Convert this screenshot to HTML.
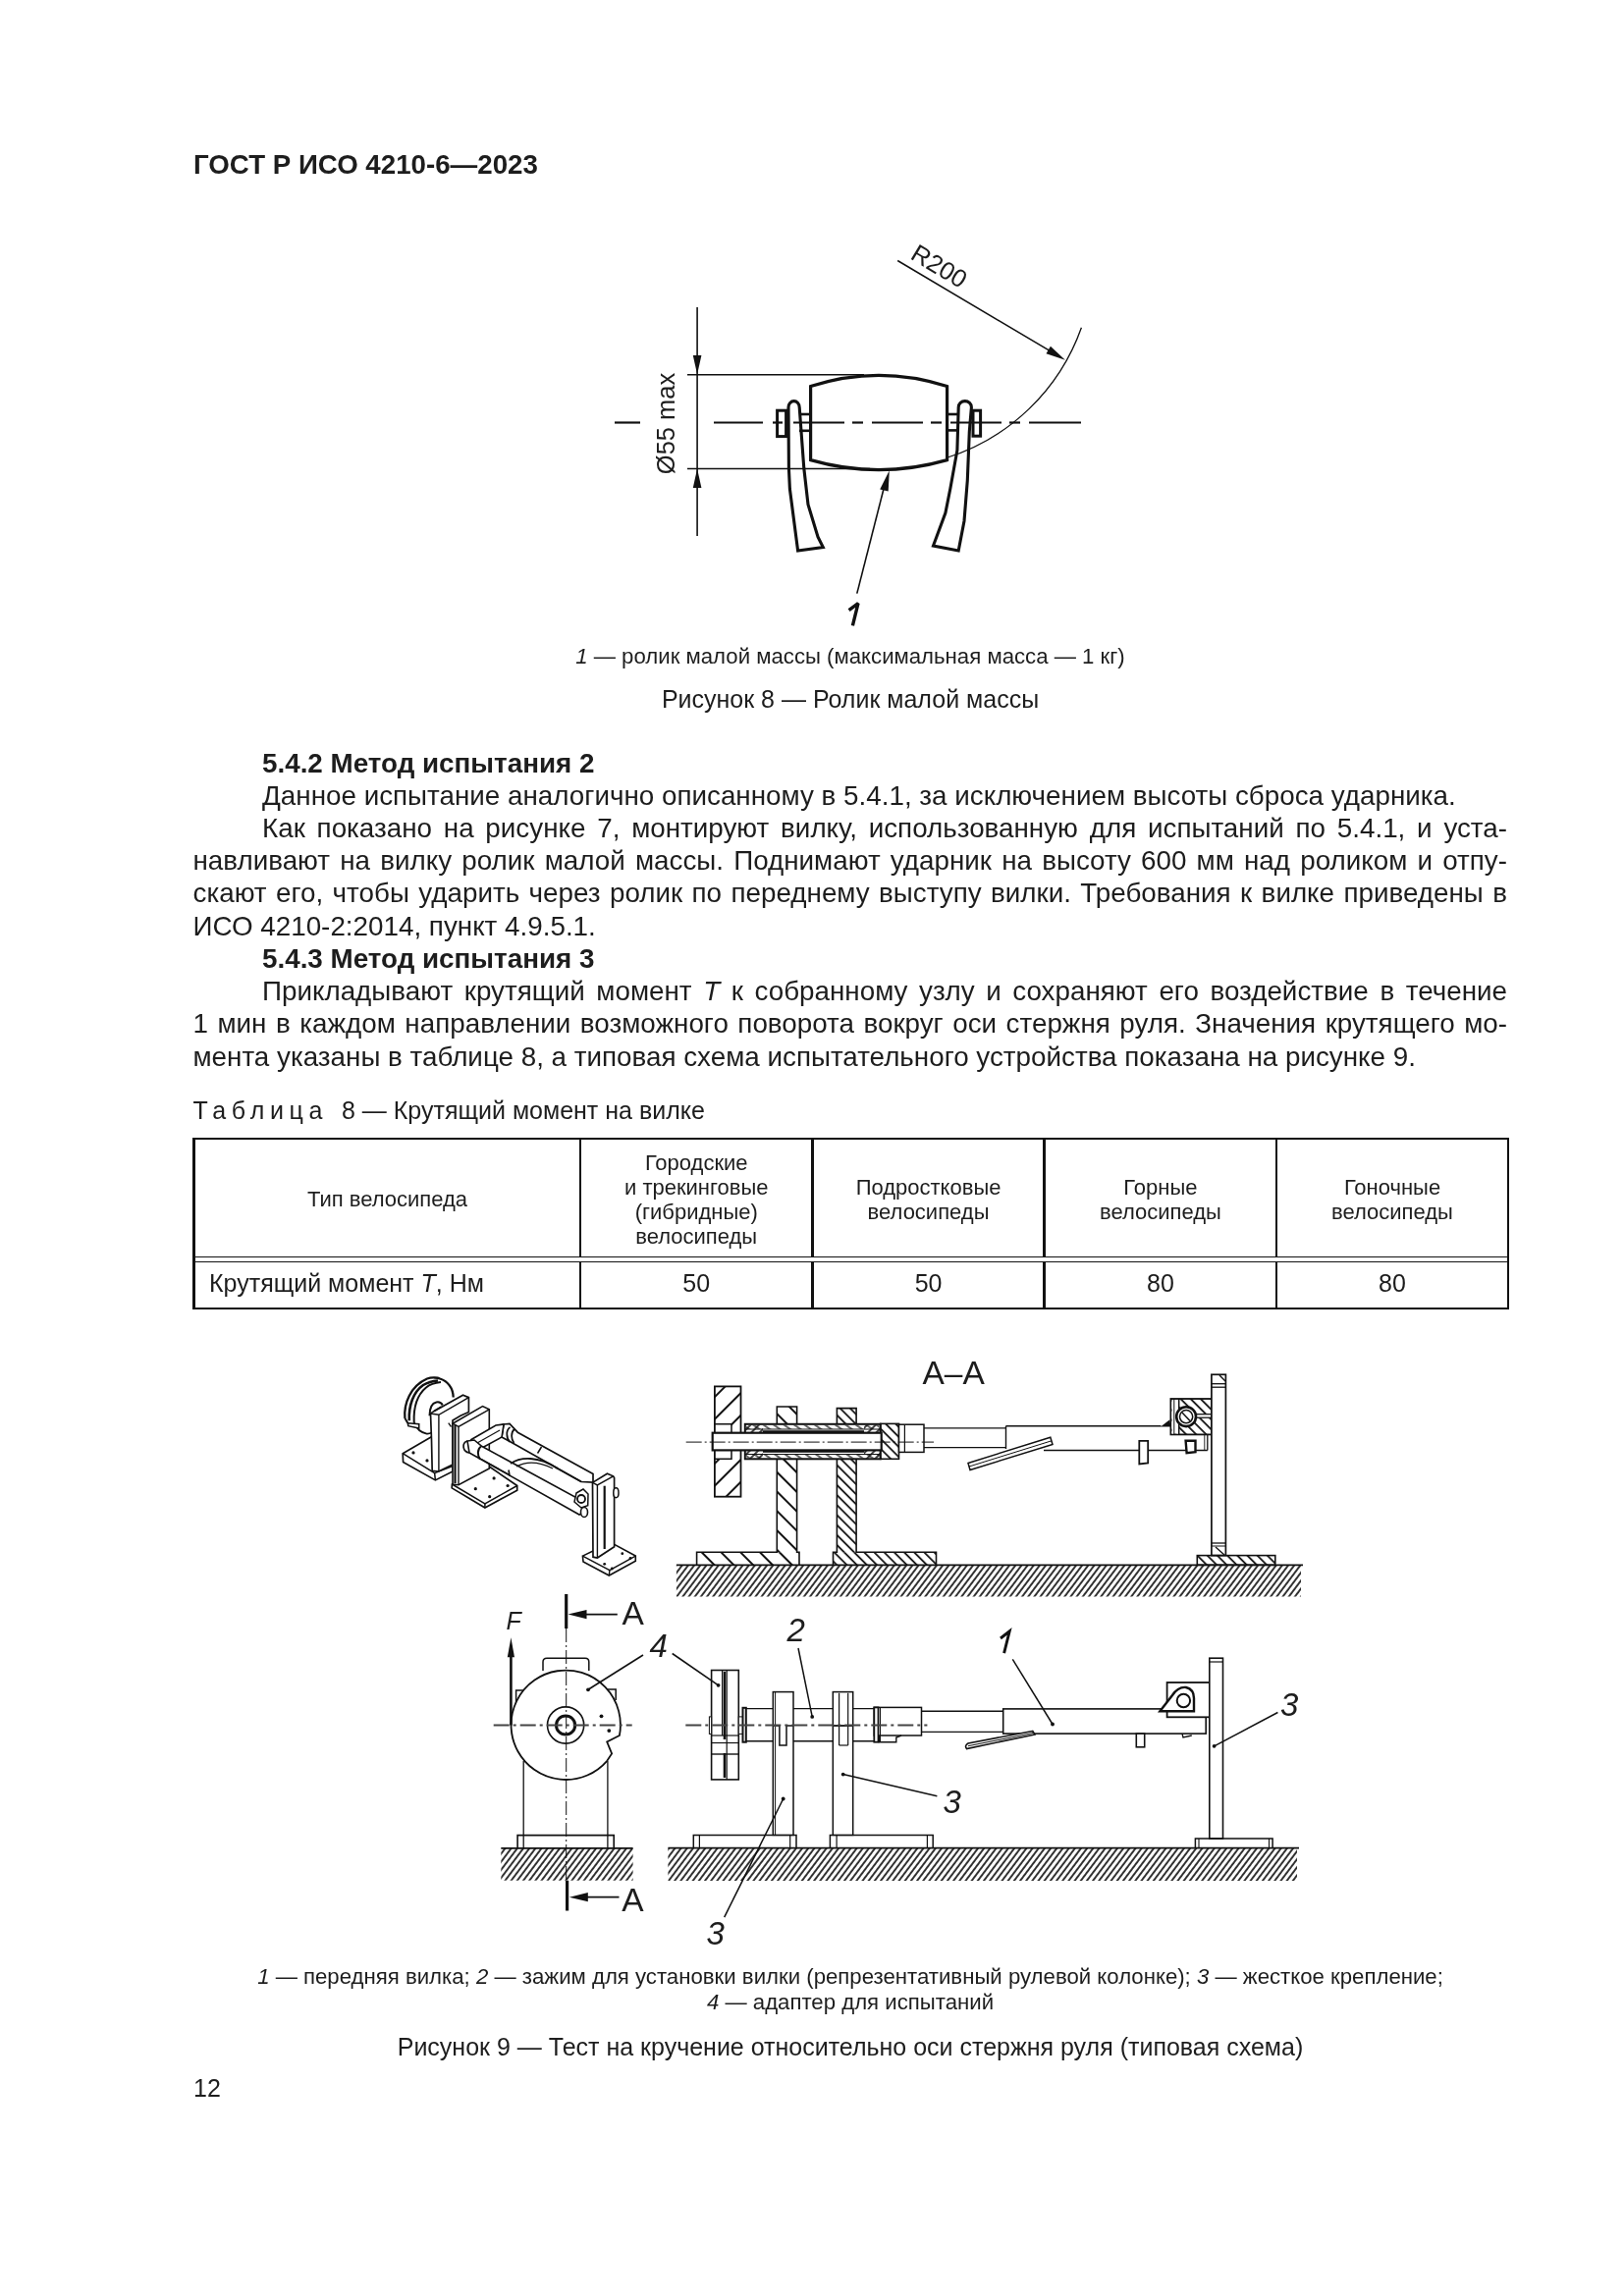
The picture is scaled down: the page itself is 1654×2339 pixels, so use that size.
<!DOCTYPE html>
<html><head><meta charset="utf-8"><title>ГОСТ Р ИСО 4210-6—2023</title>
<style>
html,body{margin:0;padding:0;background:#fff;}
#pg{position:relative;filter:grayscale(1);width:1654px;height:2339px;overflow:hidden;background:#fff;font-family:"Liberation Sans",sans-serif;color:#1d1d1d;}
.t{position:absolute;white-space:nowrap;}
.r{position:absolute;background:#111;}
.i1{display:inline-block;transform:skewX(-12deg);}
svg{position:absolute;left:0;top:0;}
</style></head><body><div id="pg">
<div class="t" style="left:197.00px;top:154.25px;font-size:27.7px;line-height:27.7px;font-weight:bold;">ГОСТ Р ИСО 4210-6—2023</div>
<div class="t" style="left:267.00px;top:763.52px;font-size:27.8px;line-height:27.8px;font-weight:bold;">5.4.2 Метод испытания 2</div>
<div class="t" style="left:267.00px;top:796.74px;font-size:27.8px;line-height:27.8px;">Данное испытание аналогично описанному в 5.4.1, за исключением высоты сброса ударника.</div>
<div class="t" style="left:267.00px;top:829.96px;font-size:27.8px;line-height:27.8px;width:1268.00px;text-align:justify;text-align-last:justify;white-space:normal;">Как показано на рисунке 7, монтируют вилку, использованную для испытаний по 5.4.1, и уста-</div>
<div class="t" style="left:196.50px;top:863.18px;font-size:27.8px;line-height:27.8px;width:1338.50px;text-align:justify;text-align-last:justify;white-space:normal;">навливают на вилку ролик малой массы. Поднимают ударник на высоту 600 мм над роликом и отпу-</div>
<div class="t" style="left:196.50px;top:896.40px;font-size:27.8px;line-height:27.8px;width:1338.50px;text-align:justify;text-align-last:justify;white-space:normal;">скают его, чтобы ударить через ролик по переднему выступу вилки. Требования к вилке приведены в</div>
<div class="t" style="left:196.50px;top:929.62px;font-size:27.8px;line-height:27.8px;">ИСО 4210-2:2014, пункт 4.9.5.1.</div>
<div class="t" style="left:267.00px;top:962.84px;font-size:27.8px;line-height:27.8px;font-weight:bold;">5.4.3 Метод испытания 3</div>
<div class="t" style="left:267.00px;top:996.06px;font-size:27.8px;line-height:27.8px;width:1268.00px;text-align:justify;text-align-last:justify;white-space:normal;">Прикладывают крутящий момент <i>T</i> к собранному узлу и сохраняют его воздействие в течение</div>
<div class="t" style="left:196.50px;top:1029.28px;font-size:27.8px;line-height:27.8px;width:1338.50px;text-align:justify;text-align-last:justify;white-space:normal;">1 мин в каждом направлении возможного поворота вокруг оси стержня руля. Значения крутящего мо-</div>
<div class="t" style="left:196.50px;top:1062.50px;font-size:27.8px;line-height:27.8px;">мента указаны в таблице 8, а типовая схема испытательного устройства показана на рисунке 9.</div>
<div class="t" style="left:166.00px;width:1400px;text-align:center;top:657.61px;font-size:22.2px;line-height:22.2px;"><i>1</i> — ролик малой массы (максимальная масса — 1 кг)</div>
<div class="t" style="left:166.00px;width:1400px;text-align:center;top:700.24px;font-size:25px;line-height:25px;">Рисунок 8 — Ролик малой массы</div>
<div class="t" style="left:196.50px;top:1119.39px;font-size:25px;line-height:25px;"><span style="letter-spacing:5.65px">Таблица</span>&nbsp; 8 — Крутящий момент на вилке</div>
<div class="t" style="left:166.00px;width:1400px;text-align:center;top:2002.61px;font-size:22.2px;line-height:22.2px;"><i>1</i> — передняя вилка; <i>2</i> — зажим для установки вилки (репрезентативный рулевой колонке); <i>3</i> — жесткое крепление;</div>
<div class="t" style="left:166.00px;width:1400px;text-align:center;top:2028.81px;font-size:22.2px;line-height:22.2px;"><i>4</i> — адаптер для испытаний</div>
<div class="t" style="left:166.00px;width:1400px;text-align:center;top:2072.54px;font-size:25px;line-height:25px;">Рисунок 9 — Тест на кручение относительно оси стержня руля (типовая схема)</div>
<div class="t" style="left:197.00px;top:2114.54px;font-size:25px;line-height:25px;">12</div>
<div class="t" style="left:244.50px;width:300px;text-align:center;top:1211.18px;font-size:22px;line-height:22px;">Тип велосипеда</div>
<div class="t" style="left:559.25px;width:300px;text-align:center;top:1173.83px;font-size:22px;line-height:22px;">Городские</div>
<div class="t" style="left:559.25px;width:300px;text-align:center;top:1198.73px;font-size:22px;line-height:22px;">и трекинговые</div>
<div class="t" style="left:559.25px;width:300px;text-align:center;top:1223.63px;font-size:22px;line-height:22px;">(гибридные)</div>
<div class="t" style="left:559.25px;width:300px;text-align:center;top:1248.53px;font-size:22px;line-height:22px;">велосипеды</div>
<div class="t" style="left:795.55px;width:300px;text-align:center;top:1198.73px;font-size:22px;line-height:22px;">Подростковые</div>
<div class="t" style="left:795.55px;width:300px;text-align:center;top:1223.63px;font-size:22px;line-height:22px;">велосипеды</div>
<div class="t" style="left:1031.90px;width:300px;text-align:center;top:1198.73px;font-size:22px;line-height:22px;">Горные</div>
<div class="t" style="left:1031.90px;width:300px;text-align:center;top:1223.63px;font-size:22px;line-height:22px;">велосипеды</div>
<div class="t" style="left:1268.00px;width:300px;text-align:center;top:1198.73px;font-size:22px;line-height:22px;">Гоночные</div>
<div class="t" style="left:1268.00px;width:300px;text-align:center;top:1223.63px;font-size:22px;line-height:22px;">велосипеды</div>
<div class="t" style="left:213.00px;top:1295.24px;font-size:25px;line-height:25px;">Крутящий момент <i>T</i>, Нм</div>
<div class="t" style="left:609.25px;width:200px;text-align:center;top:1295.24px;font-size:25px;line-height:25px;">50</div>
<div class="t" style="left:845.55px;width:200px;text-align:center;top:1295.24px;font-size:25px;line-height:25px;">50</div>
<div class="t" style="left:1081.90px;width:200px;text-align:center;top:1295.24px;font-size:25px;line-height:25px;">80</div>
<div class="t" style="left:1318.00px;width:200px;text-align:center;top:1295.24px;font-size:25px;line-height:25px;">80</div>
<div class="r" style="left:196px;top:1159px;width:1341px;height:2px"></div>
<div class="r" style="left:196px;top:1331.5px;width:1341px;height:2.5px"></div>
<div class="r" style="left:196px;top:1159px;width:3px;height:175px"></div>
<div class="r" style="left:1534.8px;top:1159px;width:2.2000000000000455px;height:175px"></div>
<div class="r" style="left:590px;top:1159px;width:2.2000000000000455px;height:121.5px"></div>
<div class="r" style="left:590px;top:1285.5px;width:2.2000000000000455px;height:48.5px"></div>
<div class="r" style="left:826.3px;top:1159px;width:2.5px;height:121.5px"></div>
<div class="r" style="left:826.3px;top:1285.5px;width:2.5px;height:48.5px"></div>
<div class="r" style="left:1062.3px;top:1159px;width:2.5px;height:121.5px"></div>
<div class="r" style="left:1062.3px;top:1285.5px;width:2.5px;height:48.5px"></div>
<div class="r" style="left:1299px;top:1159px;width:2.2000000000000455px;height:121.5px"></div>
<div class="r" style="left:1299px;top:1285.5px;width:2.2000000000000455px;height:48.5px"></div>
<div class="r" style="left:196px;top:1279.9px;width:1341px;height:1.099999999999909px"></div>
<div class="r" style="left:196px;top:1284.9px;width:1341px;height:1.099999999999909px"></div>
<svg width="1654" height="2339" viewBox="0 0 1654 2339" font-family="Liberation Sans, sans-serif" fill="#1d1d1d"><line x1="626.0" y1="430.5" x2="652.0" y2="430.5" stroke="#111" stroke-width="2.2" />
<line x1="727.0" y1="430.5" x2="777.0" y2="430.5" stroke="#111" stroke-width="2.2" />
<line x1="787.0" y1="430.5" x2="797.0" y2="430.5" stroke="#111" stroke-width="2.2" />
<line x1="808.0" y1="430.5" x2="860.0" y2="430.5" stroke="#111" stroke-width="2.2" />
<line x1="868.0" y1="430.5" x2="879.0" y2="430.5" stroke="#111" stroke-width="2.2" />
<line x1="888.0" y1="430.5" x2="940.0" y2="430.5" stroke="#111" stroke-width="2.2" />
<line x1="948.0" y1="430.5" x2="959.0" y2="430.5" stroke="#111" stroke-width="2.2" />
<line x1="968.0" y1="430.5" x2="1020.0" y2="430.5" stroke="#111" stroke-width="2.2" />
<line x1="1028.0" y1="430.5" x2="1039.0" y2="430.5" stroke="#111" stroke-width="2.2" />
<line x1="1048.0" y1="430.5" x2="1101.0" y2="430.5" stroke="#111" stroke-width="2.2" />
<line x1="710.1" y1="313.0" x2="710.1" y2="546.0" stroke="#111" stroke-width="1.6" />
<polygon points="710.1,381.5 705.8,362.0 714.4,362.0" fill="#111"/>
<polygon points="710.1,477.5 714.4,497.0 705.8,497.0" fill="#111"/>
<line x1="700.0" y1="381.8" x2="880.0" y2="381.8" stroke="#111" stroke-width="1.5" />
<line x1="700.0" y1="477.4" x2="886.0" y2="477.4" stroke="#111" stroke-width="1.5" />
<text transform="translate(686.8,483.2) rotate(-90)" font-size="25.5">Ø55 max</text>
<path d="M825.6,393.6 Q895,371.2 964.6,393.6 L964.6,468.6 Q895,488.6 825.6,468.6 Z" stroke="#111" stroke-width="3.2" fill="none" />
<rect x="791.6" y="418.2" width="9.0" height="26.4" stroke="#111" stroke-width="3" fill="none"/>
<line x1="814.0" y1="422.0" x2="825.0" y2="422.0" stroke="#111" stroke-width="2.6" />
<line x1="814.0" y1="438.8" x2="825.0" y2="438.8" stroke="#111" stroke-width="2.6" />
<path d="M803,415 L803.4,477 L804.4,498 L812.6,561 L838.3,557.5 L833,547 L823,514 L818.8,477 L814.2,415 A5.6,6.4 0 0 0 803,415 Z" stroke="#111" stroke-width="3.1" fill="none" />
<line x1="965.0" y1="422.0" x2="977.0" y2="422.0" stroke="#111" stroke-width="2.6" />
<line x1="965.0" y1="438.4" x2="977.0" y2="438.4" stroke="#111" stroke-width="2.6" />
<path d="M976.2,415 L974.9,458.7 L967.9,497.6 L962.9,522.5 L950.5,556 L976.2,561 L982,530.7 L985.3,489.3 L987.3,439.7 L989.4,415 A6.6,6.4 0 0 0 976.2,415 Z" stroke="#111" stroke-width="3.1" fill="none" />
<rect x="991.0" y="418.2" width="7.6" height="26.0" stroke="#111" stroke-width="3" fill="none"/>
<path d="M1101.4,333.7 A214.0,214.0 0 0 1 963.7,466.5" stroke="#111" stroke-width="1.3" fill="none" />
<line x1="914.2" y1="265.5" x2="1070.0" y2="357.9" stroke="#111" stroke-width="1.6" />
<polygon points="1084.9,366.7 1065.5,360.2 1069.9,352.8" fill="#111"/>
<text transform="translate(926,263) rotate(31)" font-size="25.5">R200</text>
<line x1="872.8" y1="604.6" x2="900.0" y2="498.0" stroke="#111" stroke-width="1.6" />
<polygon points="905.8,479.2 904.7,500.6 896.2,498.4" fill="#111"/>
<path d="M864.6,621.6 L874.0,614.6 L868.4,637.4" stroke="#111" stroke-width="3.4" fill="none" stroke-linejoin="bevel" stroke-linecap="butt"/>
<defs>
<pattern id="g" width="4.93" height="10" patternUnits="userSpaceOnUse" patternTransform="rotate(37)"><line x1="1" y1="-1" x2="1" y2="11" stroke="#111" stroke-width="1.7"/></pattern>
<pattern id="h20" width="14" height="10" patternUnits="userSpaceOnUse" patternTransform="translate(3,0) rotate(-45)"><line x1="1" y1="-1" x2="1" y2="11" stroke="#111" stroke-width="2"/></pattern>
<pattern id="h10" width="7.2" height="10" patternUnits="userSpaceOnUse" patternTransform="rotate(-45)"><line x1="1" y1="-1" x2="1" y2="11" stroke="#111" stroke-width="1.8"/></pattern>
<pattern id="ht" width="6" height="10" patternUnits="userSpaceOnUse" patternTransform="rotate(-55)"><line x1="1" y1="-1" x2="1" y2="11" stroke="#111" stroke-width="1.3"/></pattern>
<pattern id="f8" width="6" height="10" patternUnits="userSpaceOnUse" patternTransform="rotate(45)"><line x1="1" y1="-1" x2="1" y2="11" stroke="#111" stroke-width="1.6"/></pattern>
<pattern id="f16" width="16" height="10" patternUnits="userSpaceOnUse" patternTransform="rotate(45)"><line x1="1" y1="-1" x2="1" y2="11" stroke="#111" stroke-width="2"/></pattern>
</defs>
<rect x="688.9" y="1594.3" width="636.1" height="32.2" fill="url(#g)"/>
<line x1="688.9" y1="1594.3" x2="1327.0" y2="1594.3" stroke="#111" stroke-width="1.8" />
<rect x="709.6" y="1581.2" width="104.4" height="13.1" fill="url(#h20)"/>
<rect x="791.3" y="1433.0" width="20.3" height="148.2" fill="url(#h20)"/>
<path d="M709.6,1594.3 L709.6,1581.2 L791.3,1581.2 L791.3,1433.0 L811.6,1433.0 L811.6,1581.2 L814.0,1581.2 L814.0,1594.3" stroke="#111" stroke-width="1.6" fill="none" />
<rect x="848.5" y="1581.2" width="105.0" height="13.1" fill="url(#h10)"/>
<rect x="852.4" y="1434.6" width="19.7" height="146.6" fill="url(#h10)"/>
<path d="M848.5,1594.3 L848.5,1581.2 L852.4,1581.2 L852.4,1434.6 L872.1,1434.6 L872.1,1581.2 L953.5,1581.2 L953.5,1594.3" stroke="#111" stroke-width="1.6" fill="none" />
<rect x="727.9" y="1412.4" width="26.6" height="112.3" fill="url(#f16)"/>
<rect x="727.9" y="1412.4" width="26.6" height="112.3" fill="none" stroke="#111" stroke-width="1.8"/>
<rect x="729" y="1451" width="16" height="35" fill="#fff"/>
<path d="M727.9,1450.8 L745.0,1450.8 L745.0,1486.3 L727.9,1486.3" stroke="#111" stroke-width="1.5" fill="none" />
<rect x="758.8" y="1450.8" width="137.9" height="35.5" fill="#fff" stroke="#111" stroke-width="2"/>
<rect x="760.0" y="1451.8" width="135.5" height="4.2" fill="url(#ht)"/>
<rect x="760.0" y="1481.5" width="135.5" height="4.0" fill="url(#ht)"/>
<line x1="758.8" y1="1456.0" x2="896.7" y2="1456.0" stroke="#111" stroke-width="1.1" />
<line x1="758.8" y1="1481.5" x2="896.7" y2="1481.5" stroke="#111" stroke-width="1.1" />
<line x1="777.0" y1="1458.3" x2="880.0" y2="1458.3" stroke="#111" stroke-width="2.0" />
<line x1="777.0" y1="1478.8" x2="880.0" y2="1478.8" stroke="#111" stroke-width="2.0" />
<rect x="759.5" y="1451.5" width="17.5" height="7.5" fill="url(#f8)"/>
<rect x="759.5" y="1478.0" width="17.5" height="7.8" fill="url(#f8)"/>
<rect x="880.0" y="1451.5" width="16.0" height="7.5" fill="url(#f8)"/>
<rect x="880.0" y="1478.0" width="16.0" height="7.8" fill="url(#f8)"/>
<rect x="896.7" y="1450.4" width="18.8" height="35.9" fill="url(#h10)"/>
<rect x="896.7" y="1450.4" width="18.8" height="35.9" fill="none" stroke="#111" stroke-width="1.6"/>
<rect x="725.7" y="1459.7" width="172.0" height="17.7" fill="#fff" stroke="#111" stroke-width="2.2"/>
<rect x="915.5" y="1451.2" width="25.5" height="28.2" fill="#fff" stroke="#111" stroke-width="1.5"/>
<line x1="921.4" y1="1451.2" x2="921.4" y2="1479.4" stroke="#111" stroke-width="1.2" />
<line x1="941.0" y1="1454.8" x2="1024.5" y2="1454.8" stroke="#111" stroke-width="1.3" />
<line x1="941.0" y1="1474.7" x2="1024.5" y2="1474.7" stroke="#111" stroke-width="1.3" />
<line x1="1024.5" y1="1452.7" x2="1182.5" y2="1452.7" stroke="#111" stroke-width="1.6" />
<line x1="1024.5" y1="1452.7" x2="1024.5" y2="1476.0" stroke="#111" stroke-width="1.4" />
<line x1="1063.0" y1="1477.5" x2="1229.8" y2="1477.5" stroke="#111" stroke-width="1.4" />
<line x1="1229.8" y1="1462.0" x2="1229.8" y2="1477.5" stroke="#111" stroke-width="1.3" />
<line x1="1226.8" y1="1462.0" x2="1226.8" y2="1477.5" stroke="#111" stroke-width="0.9" />
<polygon points="1182.0,1453.6 1191.4,1446.2 1192.4,1453.6" fill="#111"/>
<path d="M986.0,1490.5 L1069.8,1464.2 L1072.0,1471.5 L988.0,1497.5 Z" stroke="#111" stroke-width="1.5" fill="#fff" />
<line x1="987.0" y1="1494.0" x2="1071.0" y2="1467.8" stroke="#111" stroke-width="1.0" />
<path d="M1160.3,1467.8 L1169.2,1467.8 L1169.2,1490.5 L1160.3,1491.5 Z" stroke="#111" stroke-width="1.8" fill="#fff" />
<path d="M1207.6,1467.8 L1217.5,1467.8 L1217.5,1479.2 L1208.6,1480.1 Z" stroke="#111" stroke-width="2.4" fill="#fff" />
<rect x="1192.4" y="1425.0" width="41.8" height="36.4" fill="url(#h10)"/>
<rect x="1192.4" y="1425.0" width="41.8" height="36.4" fill="none" stroke="#111" stroke-width="1.8"/>
<rect x="1193.5" y="1426" width="6.5" height="34.5" fill="#fff"/>
<line x1="1195.8" y1="1425.0" x2="1195.8" y2="1461.4" stroke="#111" stroke-width="1.0" />
<line x1="1200.7" y1="1425.0" x2="1200.7" y2="1461.4" stroke="#111" stroke-width="1.5" />
<rect x="1217" y="1440.7" width="16" height="3.5" fill="#fff"/>
<line x1="1218.0" y1="1440.7" x2="1234.0" y2="1440.7" stroke="#111" stroke-width="1.3" />
<line x1="1218.0" y1="1444.2" x2="1234.0" y2="1444.2" stroke="#111" stroke-width="1.3" />
<circle cx="1208.1" cy="1443.2" r="9.9" fill="#fff" stroke="#111" stroke-width="2.6"/>
<circle cx="1208.1" cy="1443.2" r="6.6" fill="none" stroke="#111" stroke-width="1.5"/>
<line x1="1204.0" y1="1439.0" x2="1212.0" y2="1447.5" stroke="#111" stroke-width="1.5" />
<rect x="1233.9" y="1400.3" width="14.5" height="184.3" fill="#fff" stroke="#111" stroke-width="1.7"/>
<line x1="1233.9" y1="1409.7" x2="1248.4" y2="1409.7" stroke="#111" stroke-width="1.3" />
<line x1="1233.9" y1="1413.2" x2="1248.4" y2="1413.2" stroke="#111" stroke-width="1.3" />
<line x1="1242.0" y1="1401.0" x2="1248.0" y2="1407.0" stroke="#111" stroke-width="1.4" />
<line x1="1233.9" y1="1572.0" x2="1248.4" y2="1572.0" stroke="#111" stroke-width="1.3" />
<line x1="1233.9" y1="1575.0" x2="1248.4" y2="1575.0" stroke="#111" stroke-width="1.0" />
<line x1="1238.0" y1="1576.0" x2="1247.0" y2="1584.0" stroke="#111" stroke-width="1.4" />
<rect x="1219.3" y="1584.6" width="79.5" height="9.7" fill="url(#h10)"/>
<rect x="1219.3" y="1584.6" width="79.5" height="9.7" fill="none" stroke="#111" stroke-width="1.6"/>
<line x1="698.7" y1="1469.1" x2="951.0" y2="1469.1" stroke="#111" stroke-width="1.0" stroke-dasharray="16 3 2 3"/>
<text x="939.5" y="1410.4" font-size="33.5">A–A</text>
<rect x="510.3" y="1882.8" width="134.3" height="32.9" fill="url(#g)"/>
<line x1="510.3" y1="1882.8" x2="644.6" y2="1882.8" stroke="#111" stroke-width="1.8" />
<path d="M527.1,1882.8 L527.1,1869.6 L625.2,1869.6 L625.2,1882.8" stroke="#111" stroke-width="1.6" fill="none" />
<line x1="533.2" y1="1794.0" x2="533.2" y2="1882.8" stroke="#111" stroke-width="1.3" />
<line x1="618.9" y1="1794.0" x2="618.9" y2="1882.8" stroke="#111" stroke-width="1.3" />
<path d="M553,1702 L553,1693 Q553,1689.2 557,1689.2 L596,1689.2 Q599.8,1689.2 599.8,1693 L599.8,1702" stroke="#111" stroke-width="1.5" fill="none" />
<path d="M533.0,1722.0 L525.6,1722.0 L525.6,1735.0" stroke="#111" stroke-width="1.5" fill="none" />
<path d="M619.0,1721.0 L627.2,1721.0 L627.2,1732.0" stroke="#111" stroke-width="1.5" fill="none" />
<path d="M630.9,1768 L618.2,1774.5 L623.1,1786.5 L618.3,1793.8 A55.7,55.7 0 1 1 630.9,1768 Z" stroke="#111" stroke-width="1.8" fill="#fff" />
<circle cx="576.1" cy="1757.5" r="18.6" fill="none" stroke="#111" stroke-width="1.6"/>
<circle cx="576.1" cy="1757.5" r="9.6" fill="none" stroke="#111" stroke-width="3"/>
<circle cx="599.0" cy="1721.3" r="1.9" fill="#111"/>
<circle cx="612.5" cy="1748.3" r="1.9" fill="#111"/>
<circle cx="620.3" cy="1763.1" r="1.9" fill="#111"/>
<line x1="576.7" y1="1659.0" x2="576.7" y2="1916.0" stroke="#111" stroke-width="1.0" stroke-dasharray="14 3 2 3"/>
<line x1="502.7" y1="1757.5" x2="643.7" y2="1757.5" stroke="#444" stroke-width="2.0" stroke-dasharray="16 4 3 4"/>
<line x1="576.7" y1="1624.0" x2="576.7" y2="1659.0" stroke="#111" stroke-width="3.2" />
<line x1="596.0" y1="1644.6" x2="628.8" y2="1644.6" stroke="#111" stroke-width="1.8" />
<polygon points="578.5,1644.6 597.5,1640.0 597.5,1649.2" fill="#111"/>
<line x1="577.6" y1="1915.7" x2="577.6" y2="1946.5" stroke="#111" stroke-width="3.2" />
<line x1="597.0" y1="1932.7" x2="630.5" y2="1932.7" stroke="#111" stroke-width="1.8" />
<polygon points="579.8,1932.7 598.8,1928.1 598.8,1937.3" fill="#111"/>
<text x="633.5" y="1654.8" font-size="33.5">A</text>
<text x="633.3" y="1946.5" font-size="33.5">A</text>
<line x1="520.4" y1="1685.0" x2="520.4" y2="1757.5" stroke="#111" stroke-width="2.6" />
<polygon points="520.4,1668.2 524.0,1688.2 516.8,1688.2" fill="#111"/>
<text x="515.5" y="1660.4" font-size="25" font-style="italic">F</text>
<text x="661.5" y="1688.0" font-size="33" font-style="italic">4</text>
<line x1="599.0" y1="1721.3" x2="655.0" y2="1686.0" stroke="#111" stroke-width="1.6" />
<rect x="680.4" y="1882.7" width="640.6" height="33.3" fill="url(#g)"/>
<line x1="680.4" y1="1882.7" x2="1323.0" y2="1882.7" stroke="#111" stroke-width="1.8" />
<path d="M706.3,1882.7 L706.3,1869.4 L811.0,1869.4 L811.0,1882.7" stroke="#111" stroke-width="1.5" fill="none" />
<line x1="712.4" y1="1869.4" x2="712.4" y2="1882.7" stroke="#111" stroke-width="1.2" />
<line x1="804.7" y1="1869.4" x2="804.7" y2="1882.7" stroke="#111" stroke-width="1.2" />
<path d="M845.4,1882.7 L845.4,1869.4 L950.2,1869.4 L950.2,1882.7" stroke="#111" stroke-width="1.5" fill="none" />
<line x1="852.1" y1="1869.4" x2="852.1" y2="1882.7" stroke="#111" stroke-width="1.2" />
<line x1="944.4" y1="1869.4" x2="944.4" y2="1882.7" stroke="#111" stroke-width="1.2" />
<line x1="759.8" y1="1740.6" x2="891.2" y2="1740.6" stroke="#111" stroke-width="1.4" />
<line x1="759.8" y1="1773.8" x2="891.2" y2="1773.8" stroke="#111" stroke-width="1.4" />
<rect x="787.3" y="1723.6" width="20.7" height="145.8" fill="#fff" stroke="#111" stroke-width="1.5"/>
<line x1="789.6" y1="1724.0" x2="789.6" y2="1869.0" stroke="#111" stroke-width="1.0" />
<rect x="788.5" y="1757" width="18.5" height="2" fill="#fff"/>
<path d="M787.3,1758.0 L793.9,1758.0 L793.9,1778.0 L801.0,1778.0 L801.0,1758.0 L808.0,1758.0" stroke="#111" stroke-width="1.5" fill="none" />
<rect x="848.3" y="1723.6" width="20.4" height="145.8" fill="#fff" stroke="#111" stroke-width="1.5"/>
<line x1="854.6" y1="1724.8" x2="854.6" y2="1778.0" stroke="#111" stroke-width="1.2" />
<line x1="863.7" y1="1724.8" x2="863.7" y2="1778.0" stroke="#111" stroke-width="1.2" />
<line x1="854.6" y1="1778.0" x2="863.7" y2="1778.0" stroke="#111" stroke-width="1.2" />
<line x1="848.3" y1="1758.0" x2="868.7" y2="1758.0" stroke="#111" stroke-width="1.8" />
<rect x="724.6" y="1701.5" width="27.7" height="111.4" fill="#fff" stroke="#111" stroke-width="1.6"/>
<line x1="735.6" y1="1701.5" x2="735.6" y2="1768.0" stroke="#111" stroke-width="1.2" />
<line x1="740.2" y1="1701.5" x2="740.2" y2="1812.9" stroke="#111" stroke-width="1.2" />
<line x1="738.0" y1="1703.0" x2="738.0" y2="1772.0" stroke="#111" stroke-width="2.6" />
<line x1="738.0" y1="1786.0" x2="738.0" y2="1811.0" stroke="#111" stroke-width="2.6" />
<line x1="724.6" y1="1768.0" x2="752.3" y2="1768.0" stroke="#111" stroke-width="1.2" />
<line x1="724.6" y1="1775.5" x2="752.3" y2="1775.5" stroke="#111" stroke-width="1.2" />
<line x1="724.6" y1="1787.0" x2="752.3" y2="1787.0" stroke="#111" stroke-width="1.4" />
<rect x="722.4" y="1748.9" width="2.2" height="17.5" fill="#fff" stroke="#111" stroke-width="1.0"/>
<rect x="752.3" y="1748.9" width="4.2" height="17.5" fill="#fff" stroke="#111" stroke-width="1.0"/>
<rect x="756.5" y="1739.8" width="3.3" height="34.9" fill="#fff" stroke="#111" stroke-width="2.0"/>
<rect x="890.3" y="1739.4" width="48.2" height="28.6" fill="#fff" stroke="#111" stroke-width="1.5"/>
<rect x="890.3" y="1739.4" width="4.2" height="35.3" fill="#fff" stroke="#111" stroke-width="1.8"/>
<line x1="896.5" y1="1739.4" x2="896.5" y2="1774.0" stroke="#111" stroke-width="1.0" />
<path d="M895.3,1768.0 L895.3,1774.7 L912.8,1774.7 L912.8,1770.0 L918.0,1768.0" stroke="#111" stroke-width="1.4" fill="none" />
<line x1="938.5" y1="1743.3" x2="1021.7" y2="1743.3" stroke="#111" stroke-width="1.4" />
<line x1="938.5" y1="1764.4" x2="1021.7" y2="1764.4" stroke="#111" stroke-width="1.4" />
<rect x="1021.7" y="1740.9" width="206.5" height="25.2" fill="#fff" stroke="#111" stroke-width="1.6"/>
<path d="M1051.7,1763.5 L986,1776 Q982,1778.5 984.5,1781.5 L1054,1767 Z" stroke="#111" stroke-width="1.6" fill="#fff" />
<line x1="986.0" y1="1778.7" x2="1052.0" y2="1765.5" stroke="#111" stroke-width="1.0" />
<rect x="1157.3" y="1766.1" width="8.4" height="13.7" fill="#fff" stroke="#111" stroke-width="1.6"/>
<path d="M1204.0,1766.1 L1205.0,1770.0 L1213.8,1768.0" stroke="#111" stroke-width="1.4" fill="none" />
<rect x="1188.6" y="1714.0" width="48.0" height="35.3" fill="#fff" stroke="#111" stroke-width="1.8"/>
<path d="M1181.4,1743.3 L1194,1727 Q1200,1718 1208,1719 Q1216,1721 1216,1730 L1216,1743.3 Z" stroke="#111" stroke-width="2.4" fill="#fff" />
<circle cx="1205.4" cy="1732.5" r="6.7" fill="#fff" stroke="#111" stroke-width="2"/>
<rect x="1231.8" y="1689.2" width="13.7" height="183.8" fill="#fff" stroke="#111" stroke-width="1.6"/>
<line x1="1231.8" y1="1693.0" x2="1245.5" y2="1693.0" stroke="#111" stroke-width="1.2" />
<path d="M1217.4,1883.0 L1217.4,1873.0 L1296.1,1873.0 L1296.1,1883.0" stroke="#111" stroke-width="1.5" fill="none" />
<line x1="1221.0" y1="1873.0" x2="1221.0" y2="1883.0" stroke="#111" stroke-width="1.1" />
<line x1="1292.5" y1="1873.0" x2="1292.5" y2="1883.0" stroke="#111" stroke-width="1.1" />
<line x1="698.3" y1="1757.5" x2="944.4" y2="1757.5" stroke="#444" stroke-width="2.0" stroke-dasharray="16 4 3 4"/>
<text x="801.5" y="1672.4" font-size="33" font-style="italic">2</text>
<line x1="813.0" y1="1679.0" x2="827.2" y2="1748.9" stroke="#111" stroke-width="1.5" />
<circle cx="827.2" cy="1748.9" r="1.9" fill="#111"/>
<path d="M1019,1669 L1028.2,1661.8 L1022.6,1684.2" stroke="#111" stroke-width="2.9" fill="none" />
<line x1="1031.3" y1="1690.4" x2="1072.0" y2="1756.5" stroke="#111" stroke-width="1.5" />
<circle cx="1072.0" cy="1756.5" r="1.9" fill="#111"/>
<text x="1304.0" y="1748.0" font-size="33" font-style="italic">3</text>
<line x1="1301.4" y1="1744.5" x2="1236.6" y2="1778.8" stroke="#111" stroke-width="1.5" />
<circle cx="1236.6" cy="1778.8" r="1.9" fill="#111"/>
<text x="960.5" y="1846.5" font-size="33" font-style="italic">3</text>
<line x1="954.4" y1="1829.7" x2="858.7" y2="1807.6" stroke="#111" stroke-width="1.5" />
<circle cx="858.7" cy="1807.6" r="1.9" fill="#111"/>
<text x="719.5" y="1981.4" font-size="33" font-style="italic">3</text>
<line x1="737.7" y1="1953.1" x2="797.7" y2="1832.5" stroke="#111" stroke-width="1.5" />
<circle cx="797.7" cy="1832.5" r="1.9" fill="#111"/>
<line x1="684.7" y1="1684.5" x2="731.6" y2="1716.8" stroke="#111" stroke-width="1.6" />
<circle cx="731.6" cy="1716.8" r="1.9" fill="#111"/>
<path d="M410.2,1480.7 L439.4,1463.8 L461.0,1476.0 L461.0,1499.0 L443.4,1507.9 L410.6,1489.5 Z" stroke="#111" stroke-width="1.7" fill="#fff" />
<path d="M410.2,1480.7 L442.6,1500.7 L461.0,1493.5" stroke="#111" stroke-width="1.5" fill="none" />
<line x1="442.6" y1="1500.7" x2="443.4" y2="1507.9" stroke="#111" stroke-width="1.5" />
<circle cx="421.0" cy="1479.9" r="1.6" fill="#111"/>
<circle cx="435.0" cy="1487.9" r="1.6" fill="#111"/>
<path d="M412.4,1444.8 L413.4,1432.5 L418.3,1418.7 L427.2,1408.8 L439.5,1403.4 L446.0,1404.2 L454.3,1408.8 L460.2,1415.2 L461.7,1423.6 L461.7,1445.0 L440.0,1460.0 L434.6,1460.6 L427.2,1457.1 L421.7,1449.2 L415.3,1449.7 Z" stroke="#111" stroke-width="0" fill="#fff" />
<path d="M412.4,1444.8 C411,1430 418,1412 435,1404.5 C440,1402.8 446,1403.5 448,1404.5 C456,1407 461.5,1414 461.7,1423.6" stroke="#111" stroke-width="2.3" fill="none" />
<path d="M416.8,1447.3 C416,1432 421,1418 431,1411 C436,1408 441,1406.9 446,1406.5" stroke="#111" stroke-width="2.6" fill="none" />
<path d="M421.7,1449.2 C421,1434 425,1421 434,1413.5 C438,1410 443,1408.6 449,1408" stroke="#111" stroke-width="2.0" fill="none" />
<path d="M412.4,1444.8 L415.3,1449.7" stroke="#111" stroke-width="2.0" fill="none" />
<path d="M421.7,1449.2 C424,1455 428,1459.5 434.6,1460.6 C437,1460.8 438.5,1460.2 439.5,1459.6" stroke="#111" stroke-width="1.8" fill="none" />
<path d="M415.3,1449.7 L426.7,1450.7 L426.7,1455.1 L415.8,1452.7 Z" stroke="#111" stroke-width="1.6" fill="#fff" />
<path d="M438.5,1439.9 L442.4,1437.4 L471.5,1421.2 L477.4,1423.6 L477.4,1438.4 L469.0,1442.3 L461.0,1447.0 L461.0,1491.9 L446.6,1499.0 L440.2,1498.3 L439.5,1467.0 Z" stroke="#111" stroke-width="1.7" fill="#fff" />
<path d="M438.5,1439.9 L446.9,1441.3 L477.4,1423.6" stroke="#111" stroke-width="1.5" fill="none" />
<line x1="446.9" y1="1441.3" x2="446.9" y2="1499.0" stroke="#111" stroke-width="1.4" />
<path d="M437.5,1442.3 C437.5,1434 440,1429.5 444.4,1428.5 C447,1428 449.5,1429 450.8,1431.5" stroke="#111" stroke-width="2.0" fill="none" />
<line x1="442.0" y1="1437.5" x2="449.5" y2="1433.0" stroke="#111" stroke-width="1.5" />
<line x1="461.0" y1="1451.0" x2="461.0" y2="1491.9" stroke="#111" stroke-width="1.3" />
<line x1="456.7" y1="1449.7" x2="459.5" y2="1453.5" stroke="#111" stroke-width="1.3" />
<path d="M460.4,1512.0 L498.3,1494.0 L526.7,1513.5 L526.7,1518.3 L493.9,1535.9 L460.2,1515.9 Z" stroke="#111" stroke-width="1.7" fill="#fff" />
<path d="M460.4,1512.0 L493.9,1531.9 L526.7,1513.5" stroke="#111" stroke-width="1.5" fill="none" />
<line x1="493.9" y1="1531.9" x2="493.9" y2="1535.9" stroke="#111" stroke-width="1.5" />
<circle cx="484.3" cy="1516.7" r="1.6" fill="#111"/>
<circle cx="503.1" cy="1505.9" r="1.6" fill="#111"/>
<circle cx="517.1" cy="1513.5" r="1.6" fill="#111"/>
<circle cx="498.7" cy="1524.7" r="1.6" fill="#111"/>
<path d="M461.0,1450.2 L491.5,1432.6 L498.3,1435.8 L498.3,1495.9 L467.0,1512.7 L461.0,1512.0 Z" stroke="#111" stroke-width="1.6" fill="#fff" />
<path d="M461.0,1450.2 L467.0,1453.4 L498.3,1435.8" stroke="#111" stroke-width="1.4" fill="none" />
<line x1="467.0" y1="1453.4" x2="467.0" y2="1512.7" stroke="#111" stroke-width="1.4" />
<line x1="463.5" y1="1451.5" x2="463.5" y2="1511.0" stroke="#111" stroke-width="2.2" />
<path d="M513.0,1451.0 L519.0,1450.5 L527.3,1459.2 L604.0,1501.5 L604.0,1510.0 L592.0,1509.5 L519.3,1468.5 L511.0,1464.0 Z" stroke="#111" stroke-width="1.7" fill="#fff" />
<path d="M511,1464 C505,1460 507,1451.5 513,1451" stroke="#111" stroke-width="1.6" fill="none" />
<path d="M519.5,1454 C515,1457 515.5,1465 519.3,1469" stroke="#111" stroke-width="1.7" fill="none" />
<path d="M524,1456 C520,1459 520.5,1466 523.5,1470" stroke="#111" stroke-width="1.7" fill="none" />
<line x1="547.5" y1="1480.5" x2="551.5" y2="1474.0" stroke="#111" stroke-width="1.5" />
<path d="M480.0,1466.5 L505.0,1452.0 L513.0,1451.0 L511.0,1464.0 L490.0,1475.5 Z" stroke="#111" stroke-width="1.6" fill="#fff" />
<line x1="486.0" y1="1470.0" x2="509.0" y2="1457.0" stroke="#111" stroke-width="1.2" />
<path d="M476.0,1468.0 L483.0,1467.0 L491.0,1473.5 L593.0,1529.0 L596.0,1540.0 L590.0,1543.0 L478.0,1480.0 Z" stroke="#111" stroke-width="1.6" fill="#fff" />
<path d="M476,1468 C470,1470 471,1479 478,1480" stroke="#111" stroke-width="1.7" fill="none" />
<path d="M490,1473.5 C486,1476 486,1483 489,1486.5" stroke="#111" stroke-width="2.0" fill="none" />
<line x1="490.0" y1="1486.3" x2="518.6" y2="1502.3" stroke="#111" stroke-width="1.3" />
<line x1="518.0" y1="1497.5" x2="519.0" y2="1503.5" stroke="#111" stroke-width="1.6" />
<path d="M520,1491 C530,1484 548,1483 568,1496" stroke="#111" stroke-width="1.8" fill="none" />
<path d="M526,1494 C535,1489 548,1488.5 563,1496" stroke="#111" stroke-width="1.3" fill="none" />
<line x1="566.0" y1="1495.0" x2="592.0" y2="1509.5" stroke="#111" stroke-width="1.5" />
<path d="M587.0,1521.0 L594.0,1517.0 L599.0,1522.0 L598.7,1533.6 L592.0,1536.0 L585.0,1530.0 Z" stroke="#111" stroke-width="1.5" fill="#fff" />
<circle cx="592" cy="1527" r="4" fill="none" stroke="#111" stroke-width="1.8"/>
<ellipse cx="595" cy="1540.5" rx="3.5" ry="5" fill="#fff" stroke="#111" stroke-width="1.6"/>
<path d="M593.4,1585.1 L604.5,1579.8 L625.6,1573.4 L647.3,1585.1 L647.3,1590.3 L620.3,1605.0 L594.0,1590.9 Z" stroke="#111" stroke-width="1.6" fill="#fff" />
<path d="M593.4,1585.1 L620.9,1599.7 L647.3,1585.1" stroke="#111" stroke-width="1.4" fill="none" />
<line x1="620.9" y1="1599.7" x2="620.3" y2="1605.0" stroke="#111" stroke-width="1.4" />
<circle cx="615.7" cy="1593.3" r="1.4" fill="#111"/>
<circle cx="633.8" cy="1582.7" r="1.4" fill="#111"/>
<circle cx="642.0" cy="1587.4" r="1.4" fill="#111"/>
<circle cx="623.3" cy="1598.0" r="1.4" fill="#111"/>
<path d="M603.5,1510.4 L618.4,1501.2 L624.6,1503.8 L625.6,1505.5 L625.6,1575.7 L608.4,1587.0 L604.0,1586.2 Z" stroke="#111" stroke-width="1.7" fill="#fff" />
<path d="M603.5,1510.4 L608.4,1513.0 L624.6,1503.8" stroke="#111" stroke-width="1.5" fill="none" />
<line x1="608.4" y1="1513.0" x2="608.4" y2="1587.0" stroke="#111" stroke-width="1.4" />
<line x1="615.7" y1="1513.7" x2="615.7" y2="1578.0" stroke="#111" stroke-width="2.2" />
<ellipse cx="627.4" cy="1520.7" rx="2.6" ry="5" fill="#fff" stroke="#111" stroke-width="1.5"/></svg>
</div></body></html>
